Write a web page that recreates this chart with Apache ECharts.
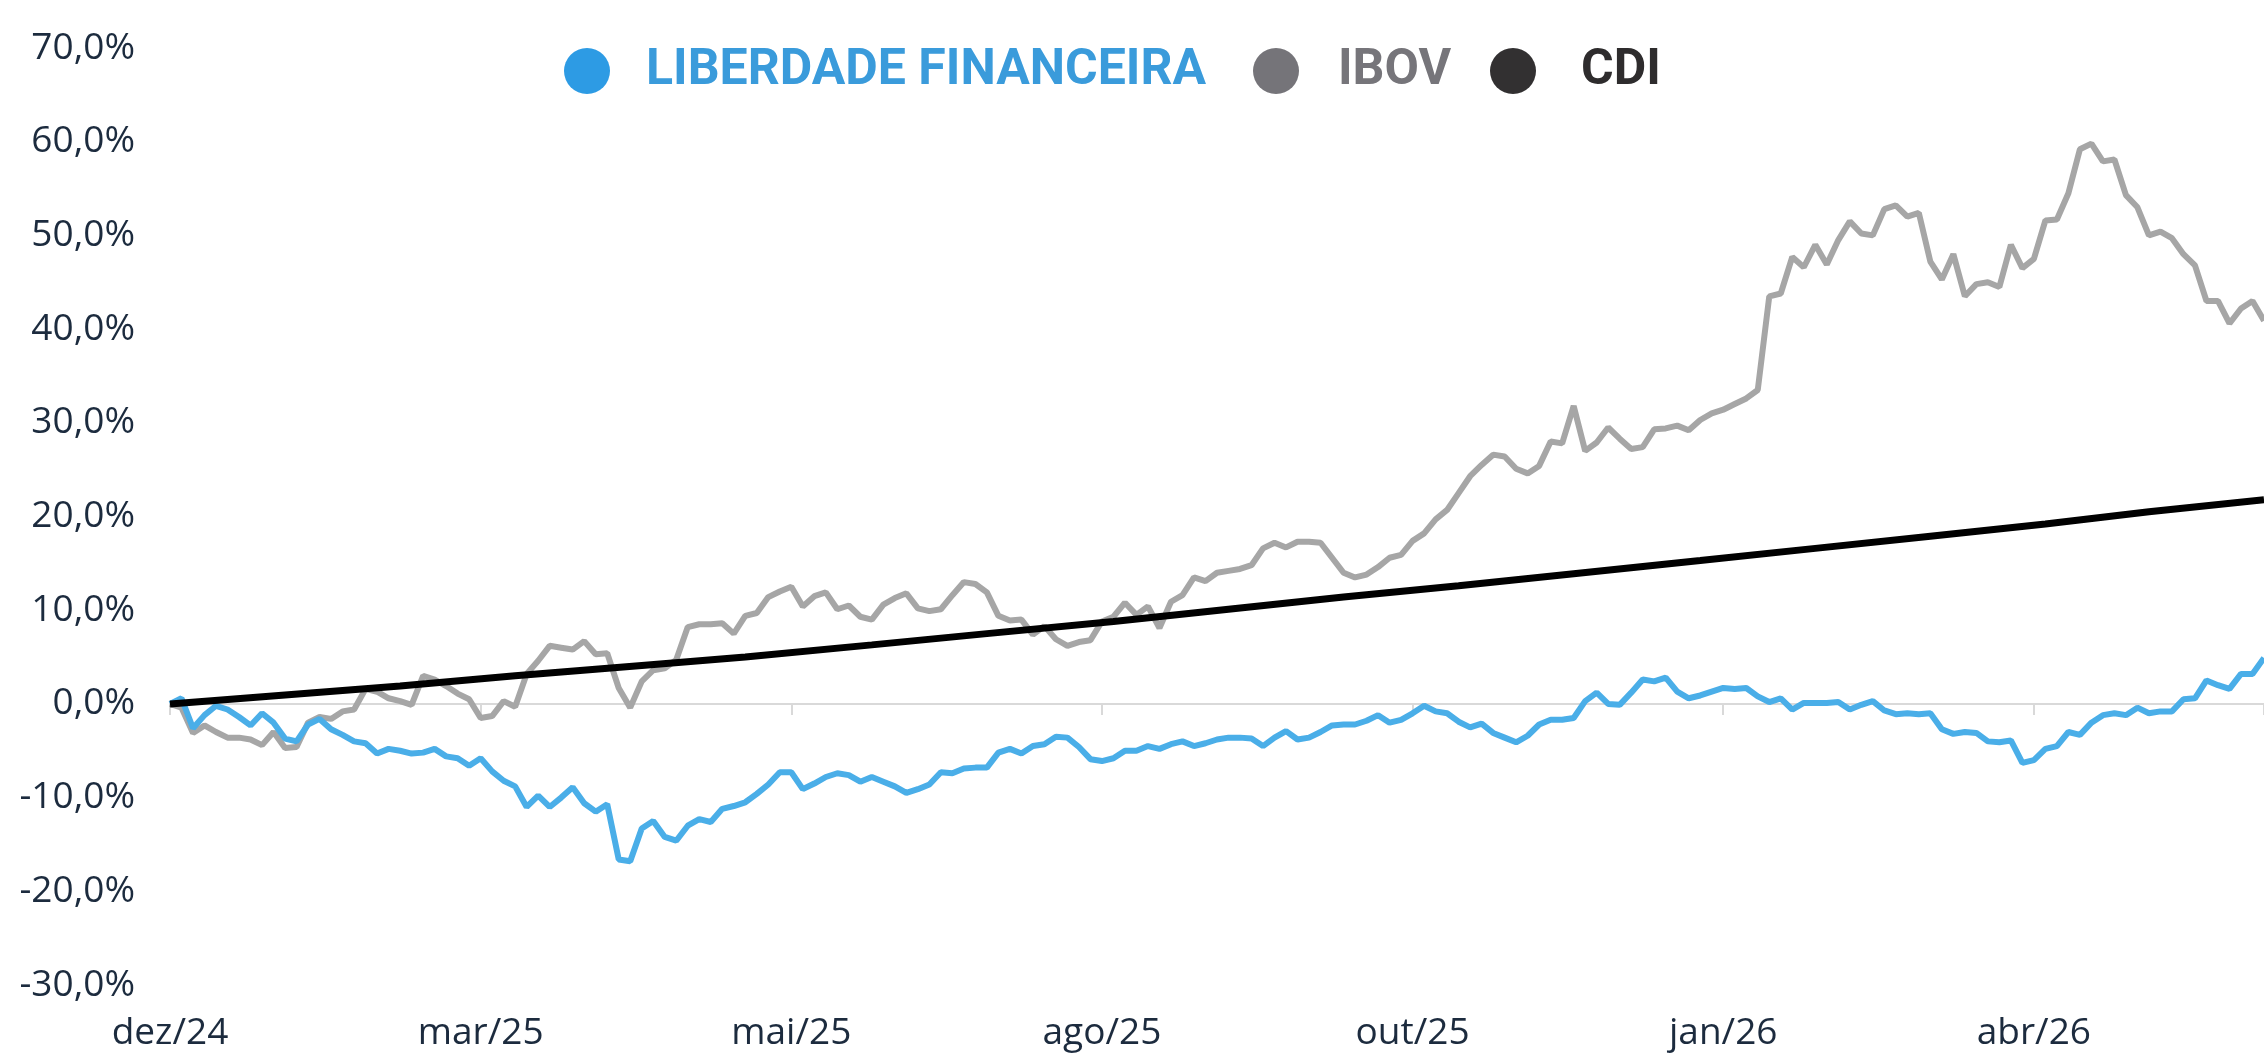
<!DOCTYPE html>
<html>
<head>
<meta charset="utf-8">
<title>Liberdade Financeira x IBOV x CDI</title>
<script src="https://cdn.jsdelivr.net/npm/echarts@6/dist/echarts.min.js"></script>
<style>
  html, body { margin: 0; padding: 0; background: #ffffff; }
  #chart { width: 2264px; height: 1056px; }
</style>
</head>
<body>
<div id="chart"></div>
<script>
// Cumulative return (%) per trading-day step, step 0 = start of dez/24
const tickLabels = ['dez/24', 'mar/25', 'mai/25', 'ago/25', 'out/25', 'jan/26', 'abr/26'];
const stepsPerTick = 27;
const lastStep = 182;

const liberdade = [
  0, 0.6, -2.6, -1.2, -0.2, -0.6, -1.4, -2.3, -1.0, -2.0,
  -3.7, -4.0, -2.2, -1.6, -2.7, -3.3, -4.0, -4.2, -5.3, -4.8,
  -5.0, -5.3, -5.2, -4.8, -5.6, -5.8, -6.6, -5.8, -7.2, -8.2,
  -8.8, -11.0, -9.8, -11.0, -10.0, -8.9, -10.6, -11.5, -10.7, -16.6,
  -16.8, -13.3, -12.5, -14.2, -14.6, -13.0, -12.3, -12.6, -11.2, -10.9,
  -10.5, -9.6, -8.6, -7.3, -7.3, -9.1, -8.5, -7.8, -7.4, -7.6,
  -8.3, -7.8, -8.3, -8.8, -9.5, -9.1, -8.6, -7.3, -7.4, -6.9,
  -6.8, -6.8, -5.2, -4.8, -5.3, -4.5, -4.3, -3.5, -3.6, -4.6,
  -5.9, -6.1, -5.8, -5.0, -5.0, -4.5, -4.8, -4.3, -4.0, -4.5,
  -4.2, -3.8, -3.6, -3.6, -3.7, -4.5, -3.6, -2.9, -3.8, -3.6,
  -3.0, -2.3, -2.2, -2.2, -1.8, -1.2, -2.0, -1.7, -1.0, -0.2,
  -0.8, -1.0, -1.9, -2.5, -2.1, -3.1, -3.6, -4.1, -3.4, -2.2,
  -1.7, -1.7, -1.5, 0.3, 1.2, 0.0, -0.1, 1.2, 2.6, 2.4,
  2.8, 1.3, 0.6, 0.9, 1.3, 1.7, 1.6, 1.7, 0.8, 0.2,
  0.6, -0.6, 0.1, 0.1, 0.1, 0.2, -0.6, -0.1, 0.3, -0.7,
  -1.1, -1.0, -1.1, -1.0, -2.7, -3.2, -3.0, -3.1, -4.0, -4.1,
  -3.9, -6.3, -6.0, -4.8, -4.5, -3.0, -3.3, -2.0, -1.2, -1.0,
  -1.2, -0.4, -1.0, -0.8, -0.8, 0.5, 0.6, 2.5, 2.0, 1.6,
  3.2, 3.2, 4.9
];

const ibov = [
  0, -0.4, -3.1, -2.3, -3.0, -3.6, -3.6, -3.8, -4.4, -3.0,
  -4.7, -4.6, -2.0, -1.4, -1.6, -0.8, -0.6, 1.6, 1.3, 0.6,
  0.3, -0.1, 3.0, 2.6, 1.9, 1.1, 0.5, -1.5, -1.3, 0.3,
  -0.3, 3.2, 4.6, 6.2, 6.0, 5.8, 6.7, 5.3, 5.4, 1.7,
  -0.4, 2.4, 3.6, 3.8, 4.7, 8.2, 8.5, 8.5, 8.6, 7.5,
  9.4, 9.7, 11.4, 12.0, 12.5, 10.4, 11.5, 11.9, 10.1, 10.5,
  9.3, 9.0, 10.6, 11.3, 11.8, 10.2, 9.9, 10.1, 11.6, 13.0,
  12.8, 11.9, 9.4, 8.9, 9.0, 7.4, 8.3, 6.9, 6.2, 6.6,
  6.8, 8.8, 9.3, 10.8, 9.5, 10.4, 8.1, 10.9, 11.6, 13.5,
  13.1, 14.0, 14.2, 14.4, 14.8, 16.6, 17.2, 16.7, 17.3, 17.3,
  17.2, 15.6, 14.0, 13.5, 13.8, 14.6, 15.6, 15.9, 17.4, 18.2,
  19.7, 20.7, 22.5, 24.3, 25.5, 26.6, 26.4, 25.1, 24.6, 25.4,
  28.0, 27.8, 31.8, 27.0, 27.9, 29.5, 28.3, 27.2, 27.4, 29.3,
  29.4, 29.7, 29.2, 30.3, 31.0, 31.4, 32.0, 32.6, 33.5, 43.5,
  43.8, 47.7, 46.6, 49.0, 46.9, 49.5, 51.5, 50.2, 50.0, 52.8,
  53.2, 52.0, 52.4, 47.2, 45.3, 48.0, 43.5, 44.8, 45.0, 44.5,
  49.0, 46.5, 47.5, 51.6, 51.7, 54.5, 59.2, 59.8, 57.9, 58.1,
  54.3, 53.0, 50.0, 50.4, 49.7, 48.0, 46.8, 43.0, 43.0, 40.6,
  42.2, 43.0, 40.9
];

// CDI is a near-straight curve: read at these steps
const cdiSteps = [0, 10, 20, 30, 41, 50, 61, 71, 82, 92, 102, 112, 122, 133, 143, 153, 163, 172, 182];
const cdiValues = [0, 0.95, 1.9, 3.0, 4.1, 5.0, 6.3, 7.5, 8.8, 10.1, 11.4, 12.6, 13.9, 15.3, 16.6, 17.9, 19.2, 20.5, 21.8];

const names = ['LIBERDADE FINANCEIRA', 'IBOV', 'CDI'];
const lineColors = ['#4aaee8', '#a6a6a6', '#000000'];
const legendColors = ['#2d9be4', '#757479', '#323031'];
const legendTextColors = ['#3a9bdb', '#76757a', '#2e2c2d'];

const axisFont = 'Open Sans';
const axisTextColor = '#1c2b3e';

const indexed = arr => arr.map((v, i) => [i, v]);
const paired = (xs, ys) => xs.map((x, i) => [x, ys[i]]);

function legendFor(k, left, gap) {
  return {
    show: true,
    left: left,
    top: 41,
    orient: 'horizontal',
    icon: 'circle',
    itemWidth: 46,
    itemHeight: 46,
    selectedMode: false,
    data: [{ name: names[k], itemStyle: { color: legendColors[k], borderWidth: 0 } }],
    textStyle: {
      color: legendTextColors[k],
      fontFamily: 'Roboto',
      fontWeight: 'bold',
      fontSize: 50,
      padding: [0, 0, 0, gap]
    }
  };
}

const chart = echarts.init(document.getElementById('chart'), null, { renderer: 'canvas' });

chart.setOption({
  animation: false,
  backgroundColor: '#ffffff',
  legend: [
    legendFor(0, 559, 31),
    legendFor(1, 1248, 34),
    legendFor(2, 1485, 40)
  ],
  grid: { left: 170, right: 0, top: 48, bottom: 71, containLabel: false },
  xAxis: [
    {
      // month labels along the bottom edge
      type: 'value',
      min: 0,
      max: lastStep,
      interval: stepsPerTick,
      position: 'bottom',
      axisLine: { show: false, onZero: false },
      axisTick: { show: false },
      splitLine: { show: false },
      axisLabel: {
        show: true,
        showMaxLabel: false,
        margin: 30,
        color: axisTextColor,
        fontFamily: axisFont,
        fontSize: 37,
        formatter: v => (v % stepsPerTick === 0 ? (tickLabels[v / stepsPerTick] || '') : '')
      }
    },
    {
      // baseline at 0% with its tick marks
      type: 'value',
      min: 0,
      max: lastStep,
      interval: stepsPerTick,
      position: 'top',
      axisLine: { show: true, onZero: true, lineStyle: { color: '#d9d9d9', width: 2 } },
      axisTick: { show: true, inside: true, length: 11, lineStyle: { color: '#d9d9d9', width: 2 } },
      splitLine: { show: false },
      axisLabel: { show: false }
    }
  ],
  yAxis: {
    type: 'value',
    min: -30,
    max: 70,
    interval: 10,
    axisLine: { show: false },
    axisTick: { show: false },
    splitLine: { show: false },
    axisLabel: {
      margin: 35,
      color: axisTextColor,
      fontFamily: axisFont,
      fontSize: 37,
      padding: [0, 0, 23, 0],
      formatter: v => v.toFixed(1).replace('.', ',') + '%'
    }
  },
  series: [
    {
      name: names[1],
      type: 'line',
      xAxisIndex: 0,
      data: indexed(ibov),
      symbol: 'none',
      lineStyle: { color: lineColors[1], width: 6 },
      itemStyle: { color: lineColors[1] },
      z: 2
    },
    {
      name: names[0],
      type: 'line',
      xAxisIndex: 0,
      data: indexed(liberdade),
      symbol: 'none',
      lineStyle: { color: lineColors[0], width: 6 },
      itemStyle: { color: lineColors[0] },
      z: 3
    },
    {
      name: names[2],
      type: 'line',
      xAxisIndex: 0,
      data: paired(cdiSteps, cdiValues),
      symbol: 'none',
      lineStyle: { color: lineColors[2], width: 7 },
      itemStyle: { color: lineColors[2] },
      z: 4
    }
  ]
});
</script>
</body>
</html>
